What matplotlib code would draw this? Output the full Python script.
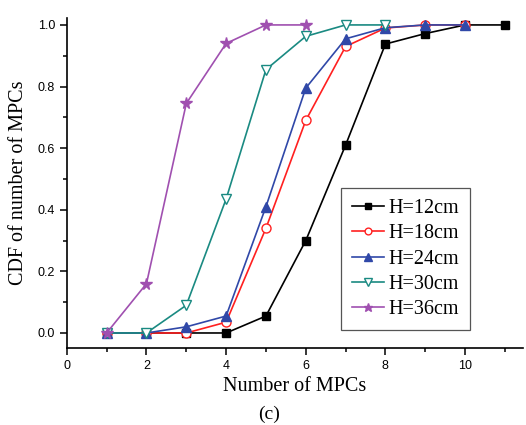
import matplotlib
matplotlib.use("Agg")
import matplotlib.pyplot as plt
from matplotlib.ticker import MultipleLocator

# data
x12 = [1, 2, 3, 4, 5, 6, 7, 8, 9, 10, 11]
y12 = [0, 0, 0, 0, 0.055, 0.30, 0.61, 0.938, 0.972, 1.0, 1.0]
x18 = [1, 2, 3, 4, 5, 6, 7, 8, 9, 10]
y18 = [0, 0, 0, 0.035, 0.34, 0.69, 0.93, 0.99, 1.0, 1.0]
x24 = [1, 2, 3, 4, 5, 6, 7, 8, 9, 10]
y24 = [0, 0, 0.02, 0.055, 0.41, 0.795, 0.955, 0.991, 1.0, 1.0]
x30 = [1, 2, 3, 4, 5, 6, 7, 8]
y30 = [0, 0, 0.09, 0.435, 0.855, 0.963, 1.0, 1.0]
x36 = [1, 2, 3, 4, 5, 6]
y36 = [0, 0.16, 0.745, 0.94, 1.0, 1.0]
labels = ["H=12cm", "H=18cm", "H=24cm", "H=30cm", "H=36cm"]

fig = plt.figure(figsize=(5.26, 4.25), dpi=100)
ax = fig.add_axes([0.127, 0.181, 0.867, 0.777])

ax.plot(x12, y12, '-s', color='black', lw=1.2, ms=6, label=labels[0])
ax.plot(x18, y18, '-o', color='#ff2020', lw=1.2, ms=6.5, mfc='white', label=labels[1])
ax.plot(x24, y24, '-^', color='#3048a8', lw=1.2, ms=7, label=labels[2])
ax.plot(x30, y30, '-v', color='#1a8a82', lw=1.2, ms=7, mfc='white', label=labels[3])
ax.plot(x36, y36, '-*', color='#a050b0', lw=1.2, ms=8.5, label=labels[4])

ax.set_xlim(0, 11.45)
ax.set_ylim(-0.049, 1.023)
ax.xaxis.set_major_locator(MultipleLocator(2))
ax.xaxis.set_minor_locator(MultipleLocator(1))
ax.yaxis.set_major_locator(MultipleLocator(0.2))
ax.yaxis.set_minor_locator(MultipleLocator(0.1))
ax.yaxis.set_major_formatter(plt.FormatStrFormatter('%.1f'))

ax.spines['top'].set_visible(False)
ax.spines['right'].set_visible(False)
ax.spines['left'].set_linewidth(1.2)
ax.spines['bottom'].set_linewidth(1.2)
ax.tick_params(which='major', direction='out', length=5, width=1.1, labelsize=9)
ax.tick_params(which='minor', direction='out', length=3, width=1.1)
for t in ax.get_xticklabels() + ax.get_yticklabels():
    t.set_fontfamily('Liberation Sans')

ax.set_xlabel("Number of MPCs", fontfamily='Liberation Serif', fontsize=14.5, labelpad=4)
ax.set_ylabel("CDF of number of MPCs", fontfamily='Liberation Serif', fontsize=14.5, labelpad=7)
fig.text(269 / 526, 1 - 414 / 425, "(c)", fontfamily='Liberation Serif', fontsize=14,
         ha='center', va='center')

leg = ax.legend(loc='lower right', bbox_to_anchor=(0.884, 0.055), borderaxespad=0,
                fancybox=False, framealpha=1, edgecolor='#555555', handlelength=1.6,
                prop={'family': 'Liberation Serif', 'size': 14.5}, labelspacing=0.3,
                borderpad=0.55, handletextpad=0.2, markerscale=0.75)
leg.get_frame().set_linewidth(0.9)

fig.savefig("out.png", dpi=100)
